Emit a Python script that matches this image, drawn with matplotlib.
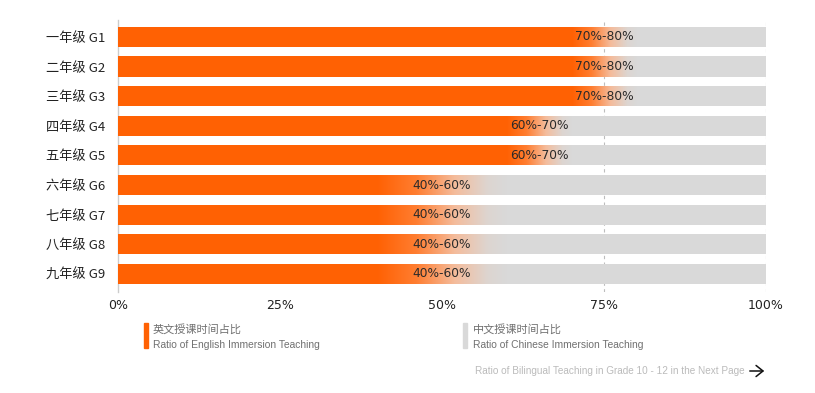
import numpy as np
import matplotlib
matplotlib.use("Agg")
import matplotlib.pyplot as plt
from matplotlib.colors import LinearSegmentedColormap

plt.rcParams['font.family'] = ['Noto Sans CJK SC', 'DejaVu Sans']

grades = ["一年级 G1", "二年级 G2", "三年级 G3", "四年级 G4", "五年级 G5",
          "六年级 G6", "七年级 G7", "八年级 G8", "九年级 G9"]
english_low = [70, 70, 70, 60, 60, 40, 40, 40, 40]
english_high = [80, 80, 80, 70, 70, 60, 60, 60, 60]
range_labels = ["70%-80%", "70%-80%", "70%-80%", "60%-70%", "60%-70%",
                "40%-60%", "40%-60%", "40%-60%", "40%-60%"]
xticks = [0, 25, 50, 75, 100]
xtick_labels = ["0%", "25%", "50%", "75%", "100%"]
legend_cn = ["英文授课时间占比", "中文授课时间占比"]
legend_en = ["Ratio of English Immersion Teaching", "Ratio of Chinese Immersion Teaching"]
next_page = "Ratio of Bilingual Teaching in Grade 10 - 12 in the Next Page"

ORANGE = "#FF6103"
GRAY = "#D9D9D9"
LATIN = ['DejaVu Sans', 'Noto Sans CJK SC']

fig = plt.figure(figsize=(8.15, 3.93), dpi=100)
ax = fig.add_axes([118/815, 1-292/393, (766-118)/815, (292-20)/393])

cmap = LinearSegmentedColormap.from_list(
    "og", [(0, ORANGE), (0.3, "#FF7D30"), (0.6, "#F4BC9C"), (0.85, "#DDD5D0"), (1, GRAY)])
h = 0.68
y = np.arange(len(grades))
full = ax.barh(y, [100]*len(grades), height=h, color=GRAY, zorder=2)
ax.barh(y, english_low, height=h, color=ORANGE, zorder=3)
grad = np.linspace(0, 1, 512).reshape(1, -1)
for i in range(len(grades)):
    im = ax.imshow(grad, cmap=cmap, aspect='auto', interpolation='bilinear',
                   extent=(english_low[i], english_high[i], i + h, i - h), zorder=4)
    im.set_clip_path(full.patches[i])
    ax.text((english_low[i] + english_high[i]) / 2, i, range_labels[i],
            ha='center', va='center', fontsize=8.8, color='#2A2A2A', zorder=5,
            family=LATIN)

for xv in [75, 100]:
    ax.axvline(xv, color='#BDBDBD', lw=0.8, ls=(0, (3, 3)), zorder=1)

ax.set_xlim(0, 100)
ax.set_ylim(8.61, -0.57)
ax.set_xticks(xticks)
ax.set_xticklabels(xtick_labels, fontsize=9, color='#222222', family=LATIN)
ax.set_yticks(y)
ax.set_yticklabels(grades, fontsize=9.5, color='#222222')
ax.tick_params(length=0, pad=9)
ax.tick_params(axis='x', pad=5)
for s in ['top', 'right', 'bottom']:
    ax.spines[s].set_visible(False)
ax.spines['left'].set_color('#CCCCCC')
ax.spines['left'].set_linewidth(1)

W, H = 815, 393
def fx(px): return px / W
def fy(py): return 1 - py / H

# legend swatches
for xpx, col in [(144, ORANGE), (463, GRAY)]:
    fig.patches.append(plt.Rectangle((fx(xpx), fy(348)), 4/W, 25/H, transform=fig.transFigure,
                                     color=col, figure=fig))
for xpx, cn, en in [(153, legend_cn[0], legend_en[0]), (473, legend_cn[1], legend_en[1])]:
    fig.text(fx(xpx), fy(329), cn, fontsize=8, color='#707070', va='center', ha='left')
    fig.text(fx(xpx), fy(344.5), en, fontsize=7.4, color='#707070', va='center', ha='left',
             family=['Liberation Sans', 'DejaVu Sans'])

fig.text(fx(745), fy(371.5), next_page, fontsize=7.2, color='#BBBBBB', va='center', ha='right',
         family=['Liberation Sans', 'DejaVu Sans'])
fig.add_artist(matplotlib.patches.FancyArrowPatch((fx(747), fy(371)), (fx(767), fy(371)),
               transform=fig.transFigure, arrowstyle='->,head_length=5,head_width=4',
               color='#111111', lw=1.1, mutation_scale=1))

fig.savefig("out.png", dpi=100)
